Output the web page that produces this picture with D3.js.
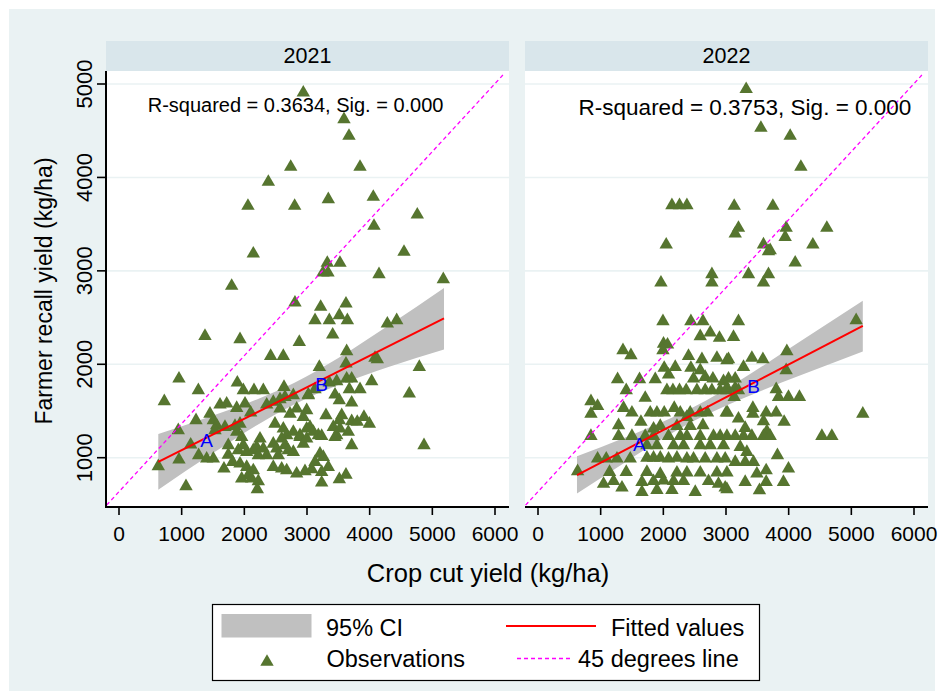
<!DOCTYPE html>
<html>
<head>
<meta charset="utf-8">
<script src="https://cdn.jsdelivr.net/npm/d3@7"></script>
<style>
  html, body { margin: 0; padding: 0; background: #ffffff; }
  svg { display: block; }
  text { font-family: "Liberation Sans", Arial, sans-serif; fill: #000; }
</style>
</head>
<body>
<svg id="chart" width="944" height="691"></svg>
<script>
// ---------------- DATA ----------------
const years = ["2021", "2022"];
const xTicks = [0, 1000, 2000, 3000, 4000, 5000, 6000];
const yTicks = [1000, 2000, 3000, 4000, 5000];
const xTitle = "Crop cut yield (kg/ha)";
const yTitle = "Farmer recall yield (kg/ha)";
const rsqText = ["R-squared = 0.3634, Sig. = 0.000", "R-squared = 0.3753, Sig. = 0.000"];
const rsqAnchor = [[458, 4697], [648, 4668]];
const legendLabels = ["95% CI", "Fitted values", "Observations", "45 degrees line"];

// observations 2021 [crop cut, farmer recall]
const obs2021 = [
  [2941,4928],[2740,4133],[2383,3972],[2058,3715],[2803,3715],[2143,3205],[1798,2859],
  [3590,4643],[3670,4465],[3846,4133],[3340,3787],[4058,3812],[4760,3622],[4069,3501],[4548,3223],
  [3324,3105],[3526,3105],[3255,3001],[3335,3001],[4149,2984],[5175,2930],
  [2808,2680],[1372,2323],[1931,2288],[2877,2259],[2420,2109],[2622,2109],[957,1866],[1266,1742],
  [723,1624],[1888,1823],[1984,1742],[2154,1742],[2303,1742],[2633,1777],[2782,1688],[3021,1688],
  [1612,1588],[1718,1599],[1878,1552],[2011,1599],[2357,1588],[2462,1617],[2569,1646],[2649,1670],
  [1452,1491],[2101,1502],[1229,1421],[1505,1421],[1559,1367],[1691,1349],[946,1314],[1851,1360],
  [1931,1384],[1878,1296],[2569,1545],[2729,1491],[2835,1545],[2941,1456],[2995,1528],[2489,1384],
  [2622,1331],[2676,1260],[2782,1296],[2888,1260],[2995,1331],[1532,1314],[1144,1160],[1744,1153],
  [1744,1052],[1958,1242],[1984,1153],[2038,1081],[1904,1100],[2143,1100],[2250,1224],[2196,1135],
  [2303,1117],[2356,1046],[2223,1046],[2462,1170],[2516,1117],[2596,1224],[2649,1153],[2702,1100],
  [2782,1081],[2888,1242],[2941,1170],[2995,1224],[1271,1046],[1399,1010],[1505,1010],[627,928],
  [957,999],[1675,903],[1813,974],[1931,956],[2038,921],[2143,885],[2063,832],[1958,796],[2117,796],
  [2223,768],[2207,682],[1069,714],[2462,921],[2596,903],[2676,885],[2835,849],[2968,875],[2542,1046],
  [3218,2634],[3622,2669],[3128,2491],[3356,2491],[3516,2545],[3644,2491],[3410,2337],[4282,2455],
  [4431,2491],[3633,2160],[4085,2088],[4122,2074],[3622,2027],[3197,1991],[4792,1991],[3633,1866],
  [3713,1866],[3474,1838],[3356,1823],[4032,1838],[3846,1753],[3021,1695],[3128,1753],[3675,1753],
  [4632,1706],[3447,1695],[3516,1635],[3713,1609],[3303,1474],[3554,1474],[3516,1421],[3713,1410],
  [3802,1403],[3909,1456],[3995,1384],[3420,1349],[3526,1331],[3659,1296],[3048,1349],[3101,1296],
  [3181,1260],[3234,1253],[3474,1260],[3447,1242],[3713,1153],[4867,1153],[3207,1063],[3260,1028],
  [3128,974],[3340,921],[3234,867],[3075,896],[3516,789],[3622,838],[3234,753]
];

// observations 2022
const obs2022 = [
  [2137,3722],[2258,3722],[2376,3722],[2046,3301],[1962,2894],[2775,2984],[2775,2894],
  [3322,4965],[3557,4550],[4024,4465],[4195,4133],[3131,3715],[3748,3715],[3199,3480],[3147,3419],
  [3960,3480],[3944,3383],[4609,3480],[3598,3302],[3678,3230],[3705,3241],[4386,3301],[4104,3108],
  [3359,2984],[3678,2984],[3598,2894],
  [1994,2481],[2440,2481],[2632,2481],[2589,2320],[2748,2359],[2896,2302],[2003,2240],[2067,2230],
  [1994,2170],[1356,2170],[1483,2117],[2402,2109],[2616,2074],[2855,2088],[3015,2063],[2014,1981],
  [2190,1991],[2440,1981],[2589,1956],[1270,1860],[1620,1860],[1871,1860],[2083,1909],[2482,1866],
  [2668,1884],[2791,1866],[2960,1838],
  [1408,1742],[2057,1742],[2153,1742],[2258,1742],[2365,1742],[2536,1742],[2668,1742],[2775,1742],
  [2907,1742],[3015,1742],
  [1711,1660],[845,1624],[951,1574],[845,1491],[1365,1552],[1499,1502],
  [1791,1502],[1898,1502],[2014,1502],[2174,1552],[2270,1502],[2429,1502],[2589,1502],[2705,1502],[3003,1502],
  [2376,1456],[1643,1403],[1844,1331],[1951,1360],[2217,1360],[2429,1360],[2632,1367],[1286,1367],[845,1253],
  [1286,1253],[1499,1253],[1711,1253],[1844,1253],[2083,1253],[2270,1253],[2376,1253],[2589,1253],
  [2801,1253],[2907,1253],[3015,1253],
  [1738,1153],[1898,1153],[2163,1153],[2322,1153],[2589,1153],[2748,1153],[2960,1153],
  [951,1010],[1089,1010],[1260,1010],[1472,1010],[1738,1020],[1844,1020],[1951,1020],[2083,1010],
  [2217,1020],[2376,1010],[2482,1010],[2668,1010],[2855,1010],[2987,1010],
  [632,875],[1142,867],[1408,867],[1738,867],[1951,845],[2217,860],[2376,860],[2589,860],[2855,860],[3015,860],
  [1046,740],[1206,770],[1340,700],[1659,760],[1844,770],[2003,775],[2163,770],[2322,770],[2721,770],
  [2880,740],[2987,700],
  [1659,653],[1898,675],[2137,675],[2509,653],
  [3199,2481],[3120,2312],[3040,2074],[3413,2088],[3589,2074],[3971,2160],[3279,1991],[3960,1956],
  [5077,2491],[3147,1866],[3040,1866],[3015,1767],[3147,1767],[3199,1742],[3801,1753],[3838,1670],
  [3997,1670],[4172,1670],[3131,1670],[3024,1502],[3429,1552],[3429,1491],[3641,1502],[3801,1502],
  [3199,1438],[3598,1410],[3928,1403],[5183,1491],[3306,1338],[3652,1303],[3147,1253],[3279,1253],
  [3413,1253],[3598,1253],[3705,1253],[4530,1253],[4689,1253],[3227,1135],[3333,1081],[3821,1046],
  [3147,974],[3306,974],[3439,974],[3493,849],[3641,885],[3997,903],[3306,760],[3641,760],[3917,760],
  [3015,682],[3534,671]
];

// fitted line end points
const fitX2021 = [627, 5186];
const fitY2021 = [956, 2491];
const fitX2022 = [622, 5183];
const fitY2022 = [814, 2412];

// 95% CI band (read at several x positions)
const ciX2021  = [627, 1500, 2200, 2800, 3500, 4300, 5186];
const ciLo2021 = [658, 1049, 1348, 1573, 1778, 1971, 2158];
const ciHi2021 = [1254, 1451, 1624, 1803, 2068, 2415, 2816];
const ciX2022  = [622, 1400, 2000, 2500, 3200, 4200, 5183];
const ciLo2022 = [616, 955, 1207, 1397, 1615, 1884, 2136];
const ciHi2022 = [1016, 1219, 1387, 1547, 1819, 2252, 2680];

// "45 degrees line" end points
const diagX = [-198, 6126];
const diagY = [492, 5096];

// A / B markers
const markText = ["A", "B"];
const markX2021 = [1399, 3234];
const markY2021 = [1188, 1788];
const markX2022 = [1616, 3439];
const markY2022 = [1146, 1759];

// ---------------- LAYOUT ----------------
const W = 944, H = 691;
const svg = d3.select("#chart");
const FONT = '"Liberation Sans", Arial, sans-serif';
const GREEN = "#56752f";

const panels = [
  { year: years[0], left: 106, right: 509, x0: 119, x6: 495, obs: obs2021,
    fitX: fitX2021, fitY: fitY2021, ciX: ciX2021, ciLo: ciLo2021, ciHi: ciHi2021,
    mX: markX2021, mY: markY2021, rsq: rsqText[0], rsqA: rsqAnchor[0], rsqSize: 20 },
  { year: years[1], left: 525, right: 928, x0: 538, x6: 914, obs: obs2022,
    fitX: fitX2022, fitY: fitY2022, ciX: ciX2022, ciLo: ciLo2022, ciHi: ciHi2022,
    mX: markX2022, mY: markY2022, rsq: rsqText[1], rsqA: rsqAnchor[1], rsqSize: 22.5 }
];
const stripTop = 41, plotTop = 71, plotBottom = 507;
const y = d3.scaleLinear().domain([1000, 5000]).range([457.7, 84]);

// background
svg.append("rect").attr("x", 0).attr("y", 0).attr("width", W).attr("height", H).attr("fill", "#ffffff");
svg.append("rect").attr("x", 9).attr("y", 9).attr("width", W - 18).attr("height", H - 9).attr("fill", "#eaf2f3");

// triangle symbol with bounding box centered
const triBox = {
  draw(ctx, size) {
    const s = Math.sqrt(size * 4 / Math.sqrt(3));
    const h = s * Math.sqrt(3) / 2;
    ctx.moveTo(0, -h / 2);
    ctx.lineTo(s / 2, h / 2);
    ctx.lineTo(-s / 2, h / 2);
    ctx.closePath();
  }
};
const triPath = d3.symbol().type(triBox).size(78)();

panels.forEach((p, i) => {
  const x = d3.scaleLinear().domain([0, 6000]).range([p.x0, p.x6]);
  const g = svg.append("g");
  const clipId = "clip" + i;
  svg.append("clipPath").attr("id", clipId)
    .append("rect").attr("x", p.left).attr("y", plotTop).attr("width", p.right - p.left).attr("height", plotBottom - plotTop);

  // strip
  g.append("rect").attr("x", p.left).attr("y", stripTop).attr("width", p.right - p.left)
    .attr("height", plotTop - stripTop).attr("fill", "#d9e6eb");
  g.append("text").attr("x", (p.left + p.right) / 2).attr("y", 62.5)
    .attr("text-anchor", "middle").style("font-size", "21.5px").text(p.year);

  // plot region
  g.append("rect").attr("x", p.left).attr("y", plotTop).attr("width", p.right - p.left)
    .attr("height", plotBottom - plotTop).attr("fill", "#ffffff");

  // grid
  g.selectAll("line.grid").data(yTicks).enter().append("line")
    .attr("x1", p.left).attr("x2", p.right)
    .attr("y1", d => y(d)).attr("y2", d => y(d))
    .attr("stroke", "#eaf2f3").attr("stroke-width", 1.6);

  const inner = g.append("g").attr("clip-path", `url(#${clipId})`);

  // CI band
  const band = d3.area().curve(d3.curveMonotoneX)
    .x(d => x(d[0])).y0(d => y(d[1])).y1(d => y(d[2]));
  const bandData = p.ciX.map((v, k) => [v, p.ciLo[k], p.ciHi[k]]);
  inner.append("path").attr("d", band(bandData)).attr("fill", "#c0c0c0");

  // observations
  inner.selectAll("path.obs").data(p.obs).enter().append("path")
    .attr("d", triPath)
    .attr("transform", d => `translate(${x(d[0])},${y(d[1])})`)
    .attr("fill", GREEN);

  // fitted line
  const line = d3.line().x(d => x(d[0])).y(d => y(d[1]));
  inner.append("path").attr("d", line(p.fitX.map((v, k) => [v, p.fitY[k]])))
    .attr("stroke", "#ff0000").attr("stroke-width", 2).attr("fill", "none");

  // 45 degree line
  inner.append("path").attr("d", line(diagX.map((v, k) => [v, diagY[k]])))
    .attr("stroke", "#ff00ff").attr("stroke-width", 1.3).attr("stroke-dasharray", "4,3").attr("fill", "none");

  // A / B labels
  g.selectAll("text.mark").data(markText).enter().append("text")
    .attr("x", (d, k) => x(p.mX[k])).attr("y", (d, k) => y(p.mY[k]))
    .attr("text-anchor", "middle").attr("dominant-baseline", "central")
    .style("font-size", "19px").style("fill", "#0000ff").text(d => d);

  // R-squared text
  g.append("text").attr("x", x(p.rsqA[0])).attr("y", y(p.rsqA[1]))
    .style("font-size", p.rsqSize + "px").text(p.rsq);

  // x axis
  g.append("line").attr("x1", p.left).attr("x2", p.right).attr("y1", plotBottom).attr("y2", plotBottom)
    .attr("stroke", "#000").attr("stroke-width", 2);
  const xa = g.selectAll("g.xt").data(xTicks).enter().append("g")
    .attr("transform", d => `translate(${x(d)},0)`);
  xa.append("line").attr("y1", plotBottom).attr("y2", plotBottom + 8).attr("stroke", "#000").attr("stroke-width", 1.6);
  xa.append("text").attr("y", 540.5).attr("text-anchor", "middle").style("font-size", "21px").text(d => d);

  // y axis (first panel only)
  if (i === 0) {
    g.append("line").attr("x1", p.left).attr("x2", p.left).attr("y1", plotTop).attr("y2", plotBottom + 1)
      .attr("stroke", "#000").attr("stroke-width", 2);
    const ya = g.selectAll("g.yt").data(yTicks).enter().append("g")
      .attr("transform", d => `translate(0,${y(d)})`);
    ya.append("line").attr("x1", p.left - 9).attr("x2", p.left).attr("stroke", "#000").attr("stroke-width", 1.6);
    ya.append("text").attr("transform", "translate(91.5,0) rotate(-90)")
      .attr("text-anchor", "middle").style("font-size", "22px").text(d => d);
  }
});

// axis titles
svg.append("text").attr("x", 488).attr("y", 582).attr("text-anchor", "middle")
  .style("font-size", "25.5px").text(xTitle);
svg.append("text").attr("transform", "translate(51.5,291) rotate(-90)").attr("text-anchor", "middle")
  .style("font-size", "23px").text(yTitle);

// legend
const lg = svg.append("g");
lg.append("rect").attr("x", 212.5).attr("y", 604.5).attr("width", 547).attr("height", 76)
  .attr("fill", "#ffffff").attr("stroke", "#000").attr("stroke-width", 1.2);
lg.append("rect").attr("x", 221.5).attr("y", 614).attr("width", 90).attr("height", 23.5).attr("fill", "#c0c0c0");
lg.append("line").attr("x1", 506).attr("x2", 596).attr("y1", 626).attr("y2", 626)
  .attr("stroke", "#ff0000").attr("stroke-width", 2);
lg.append("path").attr("d", triPath).attr("transform", "translate(267,660)").attr("fill", GREEN);
lg.append("line").attr("x1", 517).attr("x2", 571).attr("y1", 658.5).attr("y2", 658.5)
  .attr("stroke", "#ff00ff").attr("stroke-width", 1.3).attr("stroke-dasharray", "4,3");
const legPos = [[326, 636], [611, 636], [326.5, 667], [578, 667]];
lg.selectAll("text.leg").data(legendLabels).enter().append("text")
  .attr("x", (d, k) => legPos[k][0]).attr("y", (d, k) => legPos[k][1])
  .style("font-size", "23.5px").text(d => d);
</script>
</body>
</html>
